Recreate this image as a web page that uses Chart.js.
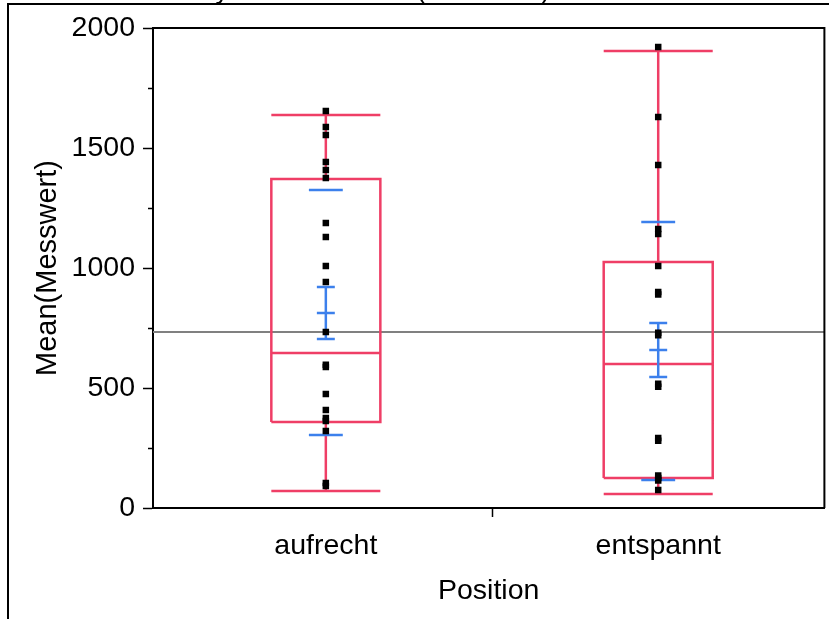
<!DOCTYPE html>
<html><head><meta charset="utf-8">
<script src="https://cdn.jsdelivr.net/npm/chart.js@4.4.1/dist/chart.umd.min.js"></script>
<style>
html,body{margin:0;padding:0;background:#fff;overflow:hidden;width:829px;height:619px}
#frame{position:absolute;left:7px;top:3px;width:1000px;height:1000px;border:2px solid #000;box-sizing:border-box}
#c{position:absolute;left:0;top:0}
</style></head><body>
<div id="frame"></div>
<canvas id="c" width="829" height="619"></canvas>
<script>
// ---- data ----
const titleText = 'Variability Chart for Mean(Messwert)';
const categories = ['aufrecht', 'entspannt'];
const categoryX = [0.5, 1.5];
const aufrechtValues = [1654, 1588, 1554, 1442, 1408, 1375, 1188, 1129, 1008, 942, 733, 597, 588, 475, 408, 375, 362, 321, 104, 92];
const entspanntValues = [1921, 1629, 1429, 1162, 1142, 1008, 900, 890, 730, 720, 518, 505, 292, 280, 135, 125, 115, 75];
const whiskerLow = [71, 58];
const q1 = [358, 125];
const median = [646, 600];
const q3 = [1371, 1025];
const whiskerHigh = [1637, 1904];
const means = [812, 658];
const ciLow = [704, 546];
const ciHigh = [921, 771];
const sdLow = [304, 117];
const sdHigh = [1325, 1192];
const grandMean = 733;
const yMajorStep = 500;
const yMinorStep = 250;
const yMin = 0, yMax = 2000;
const xMin = -0.02, xMax = 2.0, xDivider = 1;

// ---- style constants ----
const RED = '#EF3E66', BLUE = '#3C80EC', GREY = '#808080';
const FONT = '"Liberation Sans", Arial, sans-serif';
const boxHalf = 0.164, sdHalf = 0.051, ciHalf = 0.027;

function seg(a, b, c, d) { return [{x: a, y: b}, {x: c, y: d}, {x: c, y: null}]; }

const redData = [], blueData = [];
categoryX.forEach((cx, i) => {
  redData.push({x: cx - boxHalf, y: q1[i]}, {x: cx + boxHalf, y: q1[i]}, {x: cx + boxHalf, y: q3[i]},
               {x: cx - boxHalf, y: q3[i]}, {x: cx - boxHalf, y: q1[i]}, {x: cx, y: null});
  redData.push(...seg(cx - boxHalf, median[i], cx + boxHalf, median[i]));
  redData.push(...seg(cx, q3[i], cx, whiskerHigh[i]));
  redData.push(...seg(cx - boxHalf, whiskerHigh[i], cx + boxHalf, whiskerHigh[i]));
  redData.push(...seg(cx, q1[i], cx, whiskerLow[i]));
  redData.push(...seg(cx - boxHalf, whiskerLow[i], cx + boxHalf, whiskerLow[i]));

  blueData.push(...seg(cx, ciLow[i], cx, ciHigh[i]));
  blueData.push(...seg(cx - ciHalf, ciHigh[i], cx + ciHalf, ciHigh[i]));
  blueData.push(...seg(cx - ciHalf, ciLow[i], cx + ciHalf, ciLow[i]));
  blueData.push(...seg(cx - ciHalf, means[i], cx + ciHalf, means[i]));
  blueData.push(...seg(cx - sdHalf, sdHigh[i], cx + sdHalf, sdHigh[i]));
  blueData.push(...seg(cx - sdHalf, sdLow[i], cx + sdHalf, sdLow[i]));
});

const pointData = [
  ...aufrechtValues.map(v => ({x: categoryX[0], y: v})),
  ...entspanntValues.map(v => ({x: categoryX[1], y: v}))
];

const lineBase = {type: 'line', pointRadius: 0, borderWidth: 2.5, tension: 0, fill: false, spanGaps: false, borderJoinStyle: 'miter'};

const titlePlugin = {
  id: 'cutTitle',
  afterDraw(chart) {
    const ctx = chart.ctx;
    ctx.save();
    ctx.font = '27px ' + FONT;
    ctx.fillStyle = '#000';
    ctx.textBaseline = 'alphabetic';
    const pre = titleText.slice(0, titleText.indexOf('('));
    const x = 421 - ctx.measureText(pre).width - ctx.measureText('(').width / 2;
    ctx.fillText(titleText, x, -2);
    ctx.restore();
  }
};
const framePlugin = {
  id: 'plotFrame',
  afterDraw(chart) {
    const {ctx, chartArea: a} = chart;
    ctx.save();
    ctx.strokeStyle = '#000';
    ctx.lineWidth = 2;
    ctx.beginPath();
    ctx.moveTo(a.left, a.top);
    ctx.lineTo(a.right, a.top);
    ctx.lineTo(a.right, a.bottom);
    ctx.stroke();
    ctx.restore();
  }
};

new Chart(document.getElementById('c'), {
  data: {
    datasets: [
      {type: 'scatter', data: pointData, pointStyle: 'rect', pointRadius: 4.6, pointBorderWidth: 0,
       backgroundColor: '#000', borderColor: '#000', order: 0},
      Object.assign({}, lineBase, {data: blueData, borderColor: BLUE, order: 1}),
      Object.assign({}, lineBase, {data: redData, borderColor: RED, order: 2}),
      Object.assign({}, lineBase, {data: [{x: xMin, y: grandMean}, {x: xMax, y: grandMean}], borderColor: GREY, borderWidth: 2, order: 3})
    ]
  },
  options: {
    responsive: false,
    animation: false,
    events: [],
    layout: {padding: {left: 15, top: 28, right: 4, bottom: 0}},
    plugins: {legend: {display: false}, tooltip: {enabled: false}, title: {display: false}},
    scales: {
      x: {
        type: 'linear', min: xMin, max: xMax,
        afterBuildTicks(scale) { scale.ticks = [{value: categoryX[0]}, {value: xDivider}, {value: categoryX[1]}]; },
        afterFit(scale) { scale.height = 111; },
        ticks: {
          autoSkip: false, maxRotation: 0, padding: 12, color: '#000',
          font: {size: 28.5, family: FONT},
          callback(v) { const i = categoryX.indexOf(v); return i >= 0 ? categories[i] : ''; }
        },
        grid: {
          drawOnChartArea: false, drawTicks: true, tickLength: 9, tickWidth: 1.5,
          tickColor(ctx) { return ctx.tick && ctx.tick.value === xDivider ? '#000' : 'rgba(0,0,0,0)'; }
        },
        border: {display: true, color: '#000', width: 2},
        title: {display: true, text: 'Position', color: '#000', font: {size: 28.5, family: FONT}, padding: {top: 0, bottom: 11}}
      },
      y: {
        type: 'linear', min: yMin, max: yMax,
        afterFit(scale) { scale.width = 138; },
        ticks: {
          stepSize: yMinorStep, padding: 8, color: '#000',
          font: {size: 28.5, family: FONT},
          callback(v) { return v % yMajorStep === 0 ? String(v) : ''; }
        },
        grid: {
          drawOnChartArea: false, drawTicks: true, tickLength: 10, tickWidth: 1.5, tickColor: '#000',
          tickBorderDash(ctx) { return ctx.tick && ctx.tick.value % yMajorStep !== 0 ? [0, 5, 20, 0] : []; }
        },
        border: {display: true, color: '#000', width: 2},
        title: {display: true, text: 'Mean(Messwert)', color: '#000', font: {size: 29, family: FONT}, padding: {top: 16, bottom: 0}}
      }
    }
  },
  plugins: [titlePlugin, framePlugin]
});
</script>
</body></html>
